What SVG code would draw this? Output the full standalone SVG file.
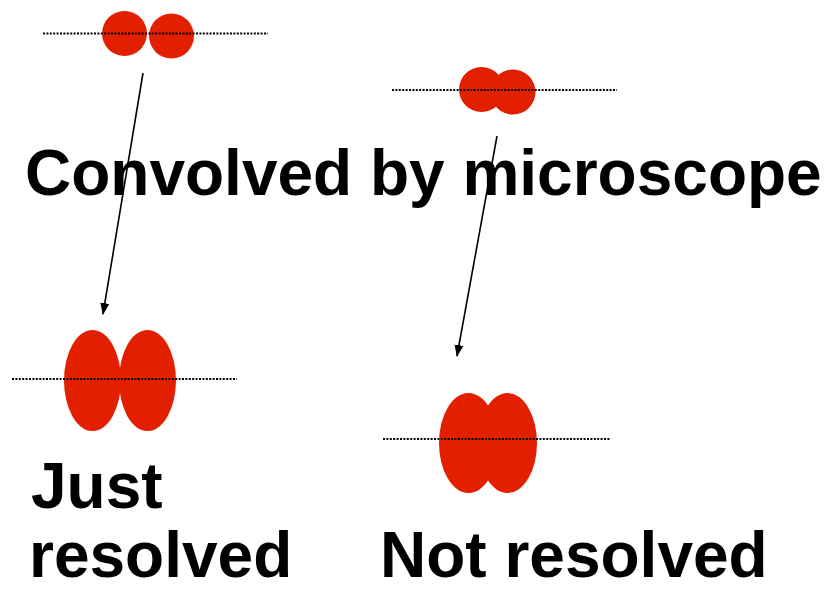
<svg xmlns="http://www.w3.org/2000/svg" width="834" height="590" viewBox="0 0 834 590">
  <defs>
    <style>
      .blob { fill: #e22000; }
      .axis { stroke: #000; stroke-width: 2; stroke-dasharray: 2 1.4; fill: none; }
      .arrow { stroke: #000; stroke-width: 1.6; fill: none; marker-end: url(#head); }
      .label { font-family: "Liberation Sans", Arial, sans-serif; font-weight: bold; font-size: 64px; fill: #000; }
    </style>
    <marker id="head" viewBox="0 0 12 10" refX="11" refY="5" markerWidth="12" markerHeight="10" markerUnits="userSpaceOnUse" orient="auto">
      <path d="M0,0.5 L12,5 L0,9.5 Z" fill="#000"/>
    </marker>
  </defs>

  <rect width="834" height="590" fill="#fff"/>

  <!-- source pair, well separated -->
  <g id="pair-separated">
    <circle class="blob" cx="124.5" cy="33.5" r="22.5"/>
    <circle class="blob" cx="171.5" cy="36" r="22.5"/>
    <line class="axis" x1="43" y1="33.5" x2="268" y2="33.5"/>
  </g>

  <!-- source pair, close together -->
  <g id="pair-close">
    <circle class="blob" cx="481.5" cy="89.5" r="22.5"/>
    <circle class="blob" cx="513" cy="92" r="22.5"/>
    <line class="axis" x1="392" y1="90" x2="617" y2="90"/>
  </g>

  <!-- image of separated pair: just resolved -->
  <g id="image-resolved">
    <ellipse class="blob" cx="92.5" cy="380.5" rx="28.5" ry="50.5"/>
    <ellipse class="blob" cx="147.5" cy="380.5" rx="28.5" ry="50.5"/>
    <line class="axis" x1="12" y1="379" x2="237" y2="379"/>
  </g>

  <!-- image of close pair: not resolved -->
  <g id="image-unresolved">
    <ellipse class="blob" cx="468.5" cy="443" rx="29.5" ry="50"/>
    <ellipse class="blob" cx="507.5" cy="443" rx="29.5" ry="50"/>
    <line class="axis" x1="383" y1="439" x2="610" y2="439"/>
  </g>

  <g id="connectors">
    <line class="arrow" x1="143" y1="73" x2="103" y2="314"/>
    <line class="arrow" x1="497" y1="136" x2="457" y2="356"/>
  </g>

  <g id="labels">
    <text class="label" x="25" y="195">Convolved by microscope</text>
    <text class="label" x="31" y="508">Just</text>
    <text class="label" x="29" y="577">resolved</text>
    <text class="label" x="380" y="577">Not resolved</text>
  </g>
</svg>
